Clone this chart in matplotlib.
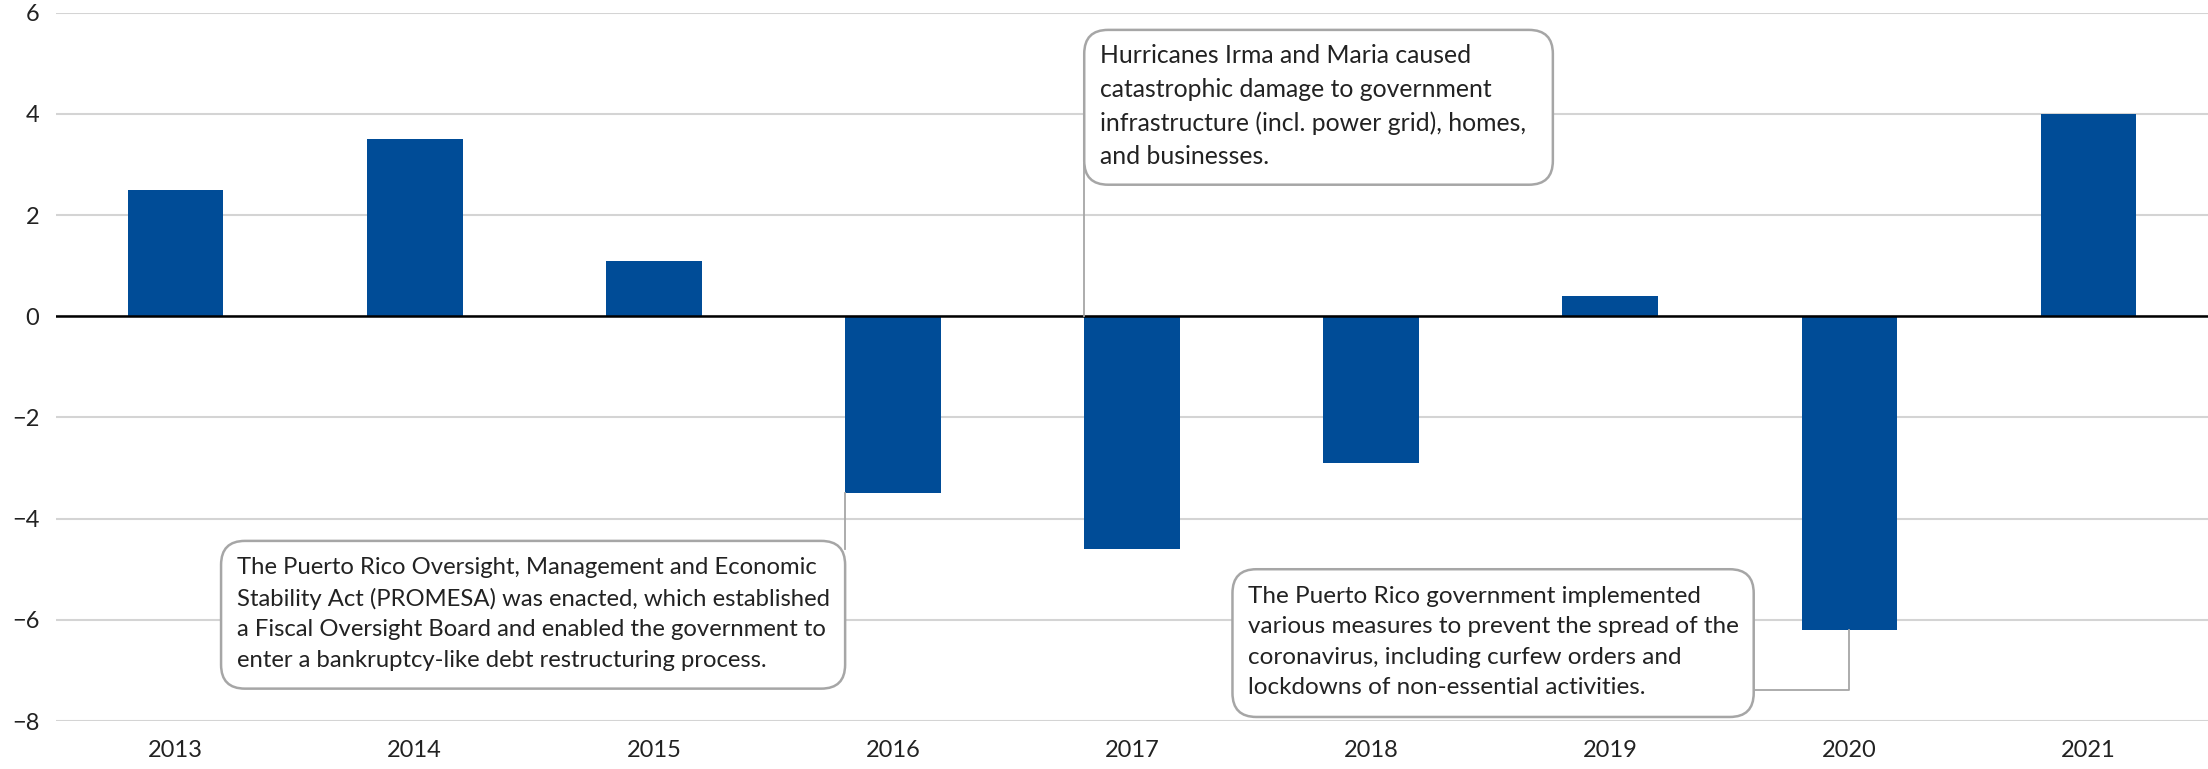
import matplotlib
matplotlib.use("Agg")
import matplotlib.pyplot as plt
from matplotlib.patches import FancyBboxPatch

years = ["2013", "2014", "2015", "2016", "2017", "2018", "2019", "2020", "2021"]
values = [2.5, 3.5, 1.1, -3.5, -4.6, -2.9, 0.4, -6.2, 4.0]
yticks = [-8, -6, -4, -2, 0, 2, 4, 6]

note_hurricanes = ("Hurricanes Irma and Maria caused\n"
                   "catastrophic damage to government\n"
                   "infrastructure (incl. power grid), homes,\n"
                   "and businesses.")
note_promesa = ("The Puerto Rico Oversight, Management and Economic\n"
                "Stability Act (PROMESA) was enacted, which established\n"
                "a Fiscal Oversight Board and enabled the government to\n"
                "enter a bankruptcy-like debt restructuring process.")
note_covid = ("The Puerto Rico government implemented\n"
              "various measures to prevent the spread of the\n"
              "coronavirus, including curfew orders and\n"
              "lockdowns of non-essential activities.")

plt.rcParams['font.family'] = ['Lato', 'DejaVu Sans']

fig = plt.figure(figsize=(22.08, 7.69), dpi=100)
ax = fig.add_axes([0.0254, 0.0624, 0.9746, 0.9211])

x = list(range(len(years)))
ax.bar(x, values, width=0.4, color="#004C97", zorder=3)

ax.set_xlim(-0.5, len(years) - 0.5)
ax.set_ylim(-8, 6)
ax.set_yticks(yticks)
ax.set_xticks(x)
ax.set_xticklabels(years)
ax.yaxis.grid(True, color="#d4d4d4", linewidth=1.5, zorder=0)
ax.axhline(0, color="black", linewidth=1.8, zorder=4)
for s in ax.spines.values():
    s.set_visible(False)
ax.tick_params(length=0, labelsize=17, colors="#222222")
ax.tick_params(axis="y", pad=12)
ax.tick_params(axis="x", pad=14)

edge = "#a6a6a6"
# 1 x unit is ~4.72 times longer on screen than 1 y unit
aspect = 170 / 36


def note_box(x0, x1, y0, y1, txt, size=17.5):
    box = FancyBboxPatch((x0, y0), x1 - x0, y1 - y0,
                         boxstyle="round,pad=0,rounding_size=0.1",
                         mutation_aspect=aspect,
                         facecolor="white", edgecolor=edge, linewidth=1.8, zorder=6)
    ax.add_patch(box)
    ax.text(x0 + 0.065, (y0 + y1) / 2 + 0.02, txt, ha="left", va="center", fontsize=size,
            color="#222222", linespacing=1.55, zorder=7)


# connectors
ax.plot([3.8, 3.8], [0, 3.0], color=edge, linewidth=1.3, zorder=5)
ax.plot([2.8, 2.8], [-3.5, -4.6], color=edge, linewidth=1.3, zorder=5)
ax.plot([6.6, 7.0, 7.0], [-7.38, -7.38, -6.2], color=edge, linewidth=1.3, zorder=5)

note_box(3.8, 5.76, 2.6, 5.66, note_hurricanes, 17.8)
note_box(0.19, 2.8, -7.36, -4.44, note_promesa, 17.2)
note_box(4.42, 6.6, -7.92, -5.0, note_covid, 17.5)

fig.savefig("out.png", dpi=100)
